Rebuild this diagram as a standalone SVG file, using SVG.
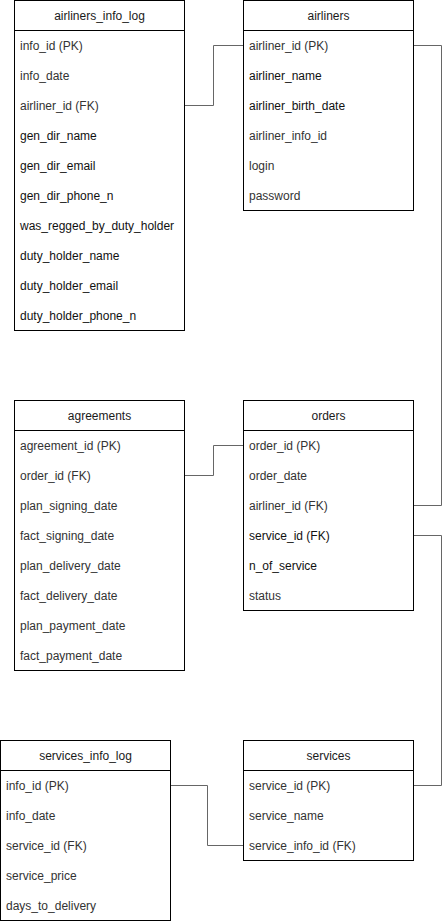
<svg xmlns="http://www.w3.org/2000/svg" width="442" height="921" viewBox="0 0 442 921">
<style>
.box{fill:#fff;stroke:#000;stroke-width:1}
.sep{stroke:#000;stroke-width:1}
.h{font-family:"Liberation Sans",Arial,sans-serif;font-size:12px;fill:#1a1a1a;text-anchor:middle}
.t{font-family:"Liberation Sans",Arial,sans-serif;font-size:12px;fill:#333}
.d{fill:#111}
.c{fill:none;stroke:#666;stroke-width:1}
</style>
<rect width="442" height="921" fill="#fff"/>
<g id="connectors">
<path class="c" d="M184.5 105.5H213.5V45.5H243.5"/>
<path class="c" d="M413.5 45.5H441.5V505.5H413.5"/>
<path class="c" d="M184.5 475.5H213.5V445.5H243.5"/>
<path class="c" d="M413.5 535.5H441.5V785.5H413.5"/>
<path class="c" d="M170.5 785.5H207.5V845.5H243.5"/>
</g>
<g id="airliners_info_log">
<rect class="box" x="14.5" y="0.5" width="170" height="330"/>
<line class="sep" x1="14.5" y1="30.5" x2="184.5" y2="30.5"/>
<text class="h" x="99.5" y="19.5">airliners_info_log</text>
<text class="t" x="20" y="49.5">info_id (PK)</text>
<text class="t" x="20" y="79.5">info_date</text>
<text class="t" x="20" y="109.5">airliner_id (FK)</text>
<text class="t d" x="20" y="139.5">gen_dir_name</text>
<text class="t d" x="20" y="169.5">gen_dir_email</text>
<text class="t d" x="20" y="199.5">gen_dir_phone_n</text>
<text class="t d" x="20" y="229.5">was_regged_by_duty_holder</text>
<text class="t d" x="20" y="259.5">duty_holder_name</text>
<text class="t d" x="20" y="289.5">duty_holder_email</text>
<text class="t d" x="20" y="319.5">duty_holder_phone_n</text>
</g>
<g id="airliners">
<rect class="box" x="243.5" y="0.5" width="170" height="210"/>
<line class="sep" x1="243.5" y1="30.5" x2="413.5" y2="30.5"/>
<text class="h" x="328.5" y="19.5">airliners</text>
<text class="t" x="249" y="49.5">airliner_id (PK)</text>
<text class="t d" x="249" y="79.5">airliner_name</text>
<text class="t d" x="249" y="109.5">airliner_birth_date</text>
<text class="t" x="249" y="139.5">airliner_info_id</text>
<text class="t" x="249" y="169.5">login</text>
<text class="t" x="249" y="199.5">password</text>
</g>
<g id="agreements">
<rect class="box" x="14.5" y="400.5" width="170" height="270"/>
<line class="sep" x1="14.5" y1="430.5" x2="184.5" y2="430.5"/>
<text class="h" x="99.5" y="419.5">agreements</text>
<text class="t" x="20" y="449.5">agreement_id (PK)</text>
<text class="t" x="20" y="479.5">order_id (FK)</text>
<text class="t" x="20" y="509.5">plan_signing_date</text>
<text class="t" x="20" y="539.5">fact_signing_date</text>
<text class="t" x="20" y="569.5">plan_delivery_date</text>
<text class="t" x="20" y="599.5">fact_delivery_date</text>
<text class="t" x="20" y="629.5">plan_payment_date</text>
<text class="t" x="20" y="659.5">fact_payment_date</text>
</g>
<g id="orders">
<rect class="box" x="243.5" y="400.5" width="170" height="210"/>
<line class="sep" x1="243.5" y1="430.5" x2="413.5" y2="430.5"/>
<text class="h" x="328.5" y="419.5">orders</text>
<text class="t" x="249" y="449.5">order_id (PK)</text>
<text class="t" x="249" y="479.5">order_date</text>
<text class="t" x="249" y="509.5">airliner_id (FK)</text>
<text class="t d" x="249" y="539.5">service_id (FK)</text>
<text class="t d" x="249" y="569.5">n_of_service</text>
<text class="t" x="249" y="599.5">status</text>
</g>
<g id="services_info_log">
<rect class="box" x="0.5" y="740.5" width="170" height="180"/>
<line class="sep" x1="0.5" y1="770.5" x2="170.5" y2="770.5"/>
<text class="h" x="85.5" y="759.5">services_info_log</text>
<text class="t" x="6" y="789.5">info_id (PK)</text>
<text class="t" x="6" y="819.5">info_date</text>
<text class="t" x="6" y="849.5">service_id (FK)</text>
<text class="t" x="6" y="879.5">service_price</text>
<text class="t" x="6" y="909.5">days_to_delivery</text>
</g>
<g id="services">
<rect class="box" x="243.5" y="740.5" width="170" height="120"/>
<line class="sep" x1="243.5" y1="770.5" x2="413.5" y2="770.5"/>
<text class="h" x="328.5" y="759.5">services</text>
<text class="t" x="249" y="789.5">service_id (PK)</text>
<text class="t" x="249" y="819.5">service_name</text>
<text class="t" x="249" y="849.5">service_info_id (FK)</text>
</g>
</svg>
